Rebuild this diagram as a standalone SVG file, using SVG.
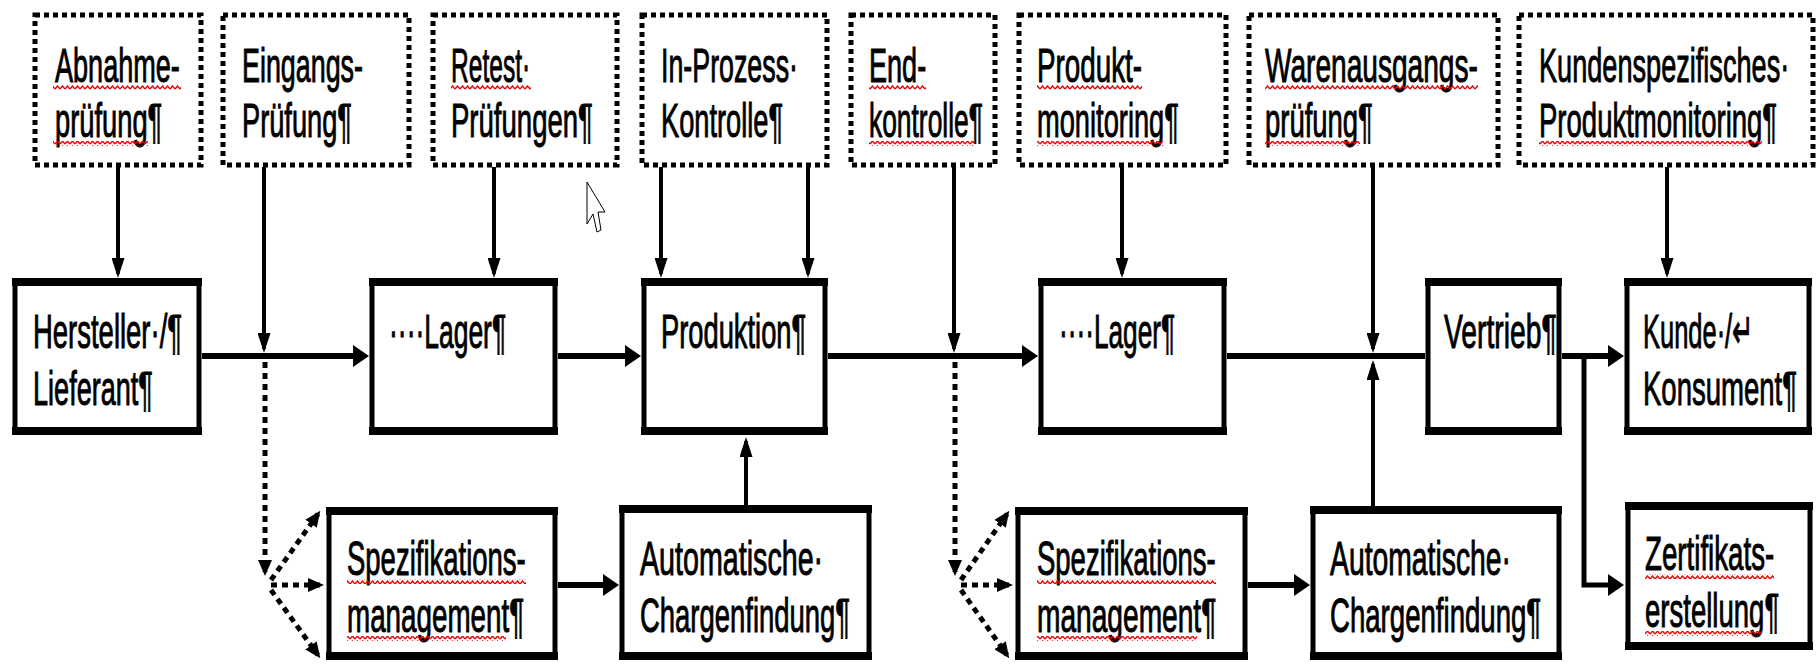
<svg xmlns="http://www.w3.org/2000/svg" width="1818" height="665" viewBox="0 0 1818 665">
<style>
.t{font-family:"Liberation Sans",Arial,sans-serif;font-size:49px;fill:#000;stroke:#000;stroke-width:1}
.box{fill:#fff;stroke:#000;stroke-width:5}
.hb{fill:none;stroke:#000;stroke-width:8}
.dbox{fill:#fff;stroke:#000;stroke-width:5;stroke-dasharray:5 4}
.thin{stroke:#000;stroke-width:4;fill:none}
.thick{stroke:#000;stroke-width:6;fill:none}
.dot{stroke:#000;stroke-width:5;fill:none;stroke-dasharray:6 5}
.sq{fill:url(#sq)}
</style>
<defs>
<pattern id="sq" width="5" height="5" patternUnits="userSpaceOnUse"><path d="M0,4 L2.5,1 L5,4" stroke="#e00" stroke-width="1.4" fill="none"/></pattern>
<marker id="ahT" viewBox="0 0 16 22" refX="10" refY="11" markerWidth="16" markerHeight="22" markerUnits="userSpaceOnUse" orient="auto"><path d="M0,0 L16,11 L0,22 z" fill="#000"/></marker>
<marker id="ahV" viewBox="0 0 20 13" refX="16" refY="6.5" markerWidth="20" markerHeight="13" markerUnits="userSpaceOnUse" orient="auto"><path d="M0,0 L20,6.5 L0,13 z" fill="#000"/></marker>
<marker id="ahD" viewBox="0 0 16 14" refX="12" refY="7" markerWidth="16" markerHeight="14" markerUnits="userSpaceOnUse" orient="auto"><path d="M0,0 L16,7 L0,14 z" fill="#000"/></marker>
</defs>
<rect width="1818" height="665" fill="#fff"/>

<g id="connectors">
<line class="thin" x1="118" y1="167" x2="118" y2="274" marker-end="url(#ahV)"/>
<line class="thin" x1="264" y1="167" x2="264" y2="349" marker-end="url(#ahV)"/>
<line class="thin" x1="494" y1="167" x2="494" y2="274" marker-end="url(#ahV)"/>
<line class="thin" x1="661" y1="167" x2="661" y2="274" marker-end="url(#ahV)"/>
<line class="thin" x1="808" y1="167" x2="808" y2="274" marker-end="url(#ahV)"/>
<line class="thin" x1="954" y1="167" x2="954" y2="349" marker-end="url(#ahV)"/>
<line class="thin" x1="1122" y1="167" x2="1122" y2="274" marker-end="url(#ahV)"/>
<line class="thin" x1="1373" y1="167" x2="1373" y2="349" marker-end="url(#ahV)"/>
<line class="thin" x1="1667" y1="167" x2="1667" y2="274" marker-end="url(#ahV)"/>
<line class="thin" x1="746" y1="505" x2="746" y2="441" marker-end="url(#ahV)"/>
<line class="thin" x1="1373" y1="506" x2="1373" y2="364" marker-end="url(#ahV)"/>
<line class="thick" x1="202" y1="356" x2="363" y2="356" marker-end="url(#ahT)"/>
<line class="thick" x1="558" y1="356" x2="635" y2="356" marker-end="url(#ahT)"/>
<line class="thick" x1="828" y1="356" x2="1032" y2="356" marker-end="url(#ahT)"/>
<line class="thick" x1="1227" y1="356" x2="1425" y2="356"/>
<line class="thick" x1="1562" y1="356" x2="1618" y2="356" marker-end="url(#ahT)"/>
<path class="thin" d="M1584,356 V585 H1618" style="stroke-width:5" marker-end="url(#ahT)"/>
<line class="thick" x1="558" y1="585" x2="613" y2="585" marker-end="url(#ahT)"/>
<line class="thick" x1="1248" y1="585" x2="1304" y2="585" marker-end="url(#ahT)"/>
<line class="dot" x1="265" y1="362" x2="265" y2="572" marker-end="url(#ahD)"/>
<line class="dot" x1="271" y1="580" x2="318" y2="514" marker-end="url(#ahD)"/>
<line class="dot" x1="271" y1="585" x2="320" y2="585" marker-end="url(#ahD)"/>
<line class="dot" x1="271" y1="590" x2="318" y2="655" marker-end="url(#ahD)"/>
<line class="dot" x1="955" y1="362" x2="955" y2="572" marker-end="url(#ahD)"/>
<line class="dot" x1="961" y1="580" x2="1007" y2="514" marker-end="url(#ahD)"/>
<line class="dot" x1="961" y1="585" x2="1009" y2="585" marker-end="url(#ahD)"/>
<line class="dot" x1="961" y1="590" x2="1007" y2="655" marker-end="url(#ahD)"/>
</g>

<g id="abnahme">
<rect class="dbox" x="35" y="15" width="166" height="150"/>
<text class="t" transform="translate(55,82) scale(.55,1)" textLength="227" lengthAdjust="spacingAndGlyphs">Abnahme-</text>
<text class="t" transform="translate(55,137) scale(.55,1)" textLength="195" lengthAdjust="spacingAndGlyphs">prüfung¶</text>
<rect class="sq" x="53" y="85" width="128" height="5"/>
<rect class="sq" x="53" y="141" width="95" height="5"/>
</g>
<g id="eingang">
<rect class="dbox" x="223" y="15" width="186" height="150"/>
<text class="t" transform="translate(242,82) scale(.55,1)" textLength="220" lengthAdjust="spacingAndGlyphs">Eingangs-</text>
<text class="t" transform="translate(242,137) scale(.55,1)" textLength="200" lengthAdjust="spacingAndGlyphs">Prüfung¶</text>
</g>
<g id="retest">
<rect class="dbox" x="433" y="15" width="184" height="150"/>
<text class="t" transform="translate(451,82) scale(.55,1)" textLength="144" lengthAdjust="spacingAndGlyphs">Retest·</text>
<text class="t" transform="translate(451,137) scale(.55,1)" textLength="258" lengthAdjust="spacingAndGlyphs">Prüfungen¶</text>
<rect class="sq" x="451" y="85" width="80" height="5"/>
</g>
<g id="inprozess">
<rect class="dbox" x="642" y="15" width="185" height="150"/>
<text class="t" transform="translate(661,82) scale(.55,1)" textLength="249" lengthAdjust="spacingAndGlyphs">In-Prozess·</text>
<text class="t" transform="translate(661,137) scale(.55,1)" textLength="222" lengthAdjust="spacingAndGlyphs">Kontrolle¶</text>
</g>
<g id="endkontrolle">
<rect class="dbox" x="851" y="15" width="144" height="150"/>
<text class="t" transform="translate(869,82) scale(.55,1)" textLength="104" lengthAdjust="spacingAndGlyphs">End-</text>
<text class="t" transform="translate(869,137) scale(.55,1)" textLength="207" lengthAdjust="spacingAndGlyphs">kontrolle¶</text>
<rect class="sq" x="869" y="85" width="57" height="5"/>
<rect class="sq" x="869" y="141" width="105" height="5"/>
</g>
<g id="produktmonitoring">
<rect class="dbox" x="1019" y="15" width="207" height="150"/>
<text class="t" transform="translate(1037,82) scale(.55,1)" textLength="191" lengthAdjust="spacingAndGlyphs">Produkt-</text>
<text class="t" transform="translate(1037,137) scale(.55,1)" textLength="258" lengthAdjust="spacingAndGlyphs">monitoring¶</text>
<rect class="sq" x="1037" y="85" width="105" height="5"/>
<rect class="sq" x="1037" y="141" width="126" height="5"/>
</g>
<g id="warenausgang">
<rect class="dbox" x="1249" y="15" width="249" height="150"/>
<text class="t" transform="translate(1265,82) scale(.55,1)" textLength="387" lengthAdjust="spacingAndGlyphs">Warenausgangs-</text>
<text class="t" transform="translate(1265,137) scale(.55,1)" textLength="196" lengthAdjust="spacingAndGlyphs">prüfung¶</text>
<rect class="sq" x="1265" y="85" width="213" height="5"/>
<rect class="sq" x="1265" y="141" width="95" height="5"/>
</g>
<g id="kundenmonitoring">
<rect class="dbox" x="1519" y="15" width="294" height="150"/>
<text class="t" transform="translate(1539,82) scale(.55,1)" textLength="455" lengthAdjust="spacingAndGlyphs">Kundenspezifisches·</text>
<text class="t" transform="translate(1539,137) scale(.55,1)" textLength="433" lengthAdjust="spacingAndGlyphs">Produktmonitoring¶</text>
<rect class="sq" x="1539" y="141" width="223" height="5"/>
</g>

<g id="hersteller">
<rect class="box" x="15" y="281" width="184" height="151"/>
<path class="hb" d="M12,282 H202 M12,431 H202"/>
<text class="t" transform="translate(33,348) scale(.55,1)" textLength="271" lengthAdjust="spacingAndGlyphs">Hersteller·/¶</text>
<text class="t" transform="translate(33,405) scale(.55,1)" textLength="218" lengthAdjust="spacingAndGlyphs">Lieferant¶</text>
</g>
<g id="lager1">
<rect class="box" x="372" y="281" width="183" height="151"/>
<path class="hb" d="M369,282 H558 M369,431 H558"/>
<text class="t" transform="translate(389,348) scale(.55,1)" textLength="213" lengthAdjust="spacingAndGlyphs">····Lager¶</text>
</g>
<g id="produktion">
<rect class="box" x="644" y="281" width="181" height="151"/>
<path class="hb" d="M641,282 H828 M641,431 H828"/>
<text class="t" transform="translate(661,348) scale(.55,1)" textLength="264" lengthAdjust="spacingAndGlyphs">Produktion¶</text>
</g>
<g id="lager2">
<rect class="box" x="1041" y="281" width="183" height="151"/>
<path class="hb" d="M1038,282 H1227 M1038,431 H1227"/>
<text class="t" transform="translate(1059,348) scale(.55,1)" textLength="211" lengthAdjust="spacingAndGlyphs">····Lager¶</text>
</g>
<g id="vertrieb">
<rect class="box" x="1428" y="281" width="131" height="151"/>
<path class="hb" d="M1425,282 H1562 M1425,431 H1562"/>
<text class="t" transform="translate(1444,348) scale(.55,1)" textLength="205" lengthAdjust="spacingAndGlyphs">Vertrieb¶</text>
</g>
<g id="kunde">
<rect class="box" x="1627" y="281" width="182" height="151"/>
<path class="hb" d="M1624,282 H1812 M1624,431 H1812"/>
<text class="t" transform="translate(1643,348) scale(.55,1)" textLength="202" lengthAdjust="spacingAndGlyphs">Kunde·/↵</text>
<text class="t" transform="translate(1643,405) scale(.55,1)" textLength="280" lengthAdjust="spacingAndGlyphs">Konsument¶</text>
</g>

<g id="spez1">
<rect class="box" x="329" y="510" width="226" height="147"/>
<path class="hb" d="M326,511 H558 M326,656 H558"/>
<text class="t" transform="translate(347,575) scale(.55,1)" textLength="325" lengthAdjust="spacingAndGlyphs">Spezifikations-</text>
<text class="t" transform="translate(347,632) scale(.55,1)" textLength="322" lengthAdjust="spacingAndGlyphs">management¶</text>
<rect class="sq" x="347" y="579" width="179" height="5"/>
<rect class="sq" x="347" y="636" width="159" height="5"/>
</g>
<g id="auto1">
<rect class="box" x="622" y="508" width="247" height="149"/>
<path class="hb" d="M619,509 H872 M619,656 H872"/>
<text class="t" transform="translate(640,575) scale(.55,1)" textLength="333" lengthAdjust="spacingAndGlyphs">Automatische·</text>
<text class="t" transform="translate(640,632) scale(.55,1)" textLength="382" lengthAdjust="spacingAndGlyphs">Chargenfindung¶</text>
</g>
<g id="spez2">
<rect class="box" x="1018" y="510" width="227" height="147"/>
<path class="hb" d="M1015,511 H1248 M1015,656 H1248"/>
<text class="t" transform="translate(1037,575) scale(.55,1)" textLength="325" lengthAdjust="spacingAndGlyphs">Spezifikations-</text>
<text class="t" transform="translate(1037,632) scale(.55,1)" textLength="326" lengthAdjust="spacingAndGlyphs">management¶</text>
<rect class="sq" x="1037" y="579" width="179" height="5"/>
<rect class="sq" x="1037" y="636" width="160" height="5"/>
</g>
<g id="auto2">
<rect class="box" x="1313" y="509" width="246" height="148"/>
<path class="hb" d="M1310,510 H1562 M1310,656 H1562"/>
<text class="t" transform="translate(1330,575) scale(.55,1)" textLength="329" lengthAdjust="spacingAndGlyphs">Automatische·</text>
<text class="t" transform="translate(1330,632) scale(.55,1)" textLength="384" lengthAdjust="spacingAndGlyphs">Chargenfindung¶</text>
</g>
<g id="zertifikat">
<rect class="box" x="1628" y="505" width="182" height="142"/>
<path class="hb" d="M1625,506 H1813 M1625,646 H1813"/>
<text class="t" transform="translate(1645,570) scale(.55,1)" textLength="235" lengthAdjust="spacingAndGlyphs">Zertifikats-</text>
<text class="t" transform="translate(1645,627) scale(.55,1)" textLength="244" lengthAdjust="spacingAndGlyphs">erstellung¶</text>
<rect class="sq" x="1645" y="574" width="129" height="5"/>
<rect class="sq" x="1645" y="631" width="117" height="5"/>
</g>

<path d="M587,182 L587,224 L593,214 L597,232 L601,230 L598,212 L605,212 Z" fill="#fff" stroke="#000" stroke-width="1"/>
</svg>
